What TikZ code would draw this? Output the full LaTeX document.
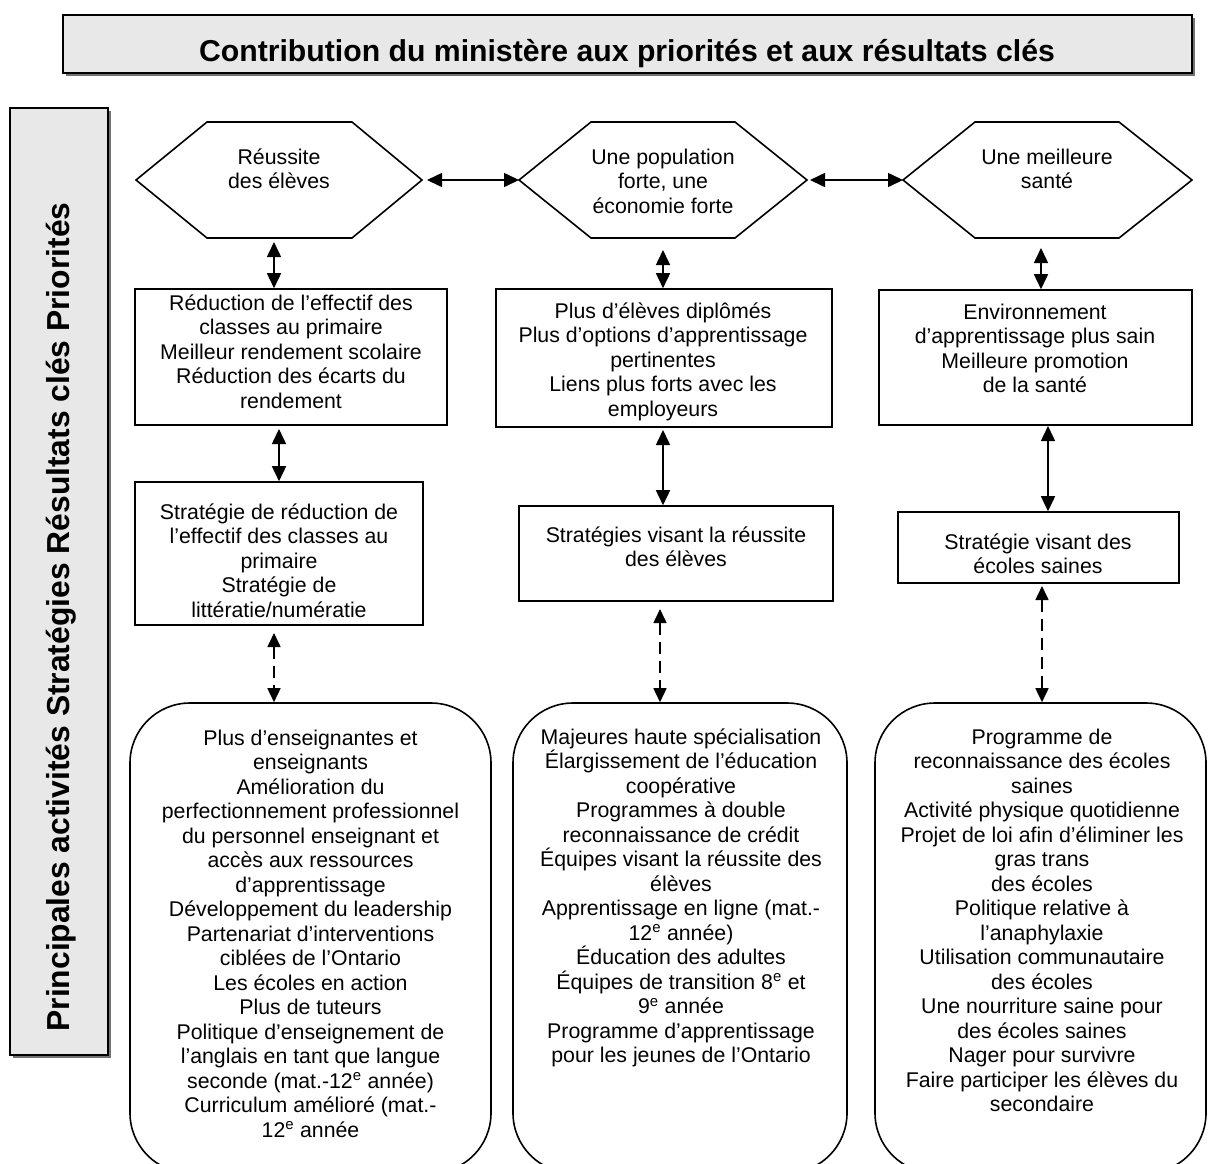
\documentclass[tikz,border=0pt]{standalone}
\usepackage{fontspec}
\setmainfont{Liberation Sans}
\usetikzlibrary{arrows.meta,calc}
\tikzset{
  frame/.style={draw, line width=1.6pt, inner sep=0pt, fill=white},
  grayframe/.style={draw, line width=1.4pt, inner sep=0pt, fill=black!9},
  shadowframe/.style={draw=none, fill=black!55, inner sep=0pt},
  txt/.style={inner sep=0pt, align=center, anchor=north, font=\fontsize{21.3}{24.5}\selectfont},
  hexline/.style={line width=1.6pt, line join=miter},
  dbl/.style={{Triangle[length=15pt,width=14pt]}-{Triangle[length=15pt,width=14pt]}, line width=1.6pt},
  dsh/.style={{Triangle[length=14pt,width=13pt]}-{Triangle[length=14pt,width=13pt]}, line width=1.6pt, dash pattern=on 12pt off 7pt}
}
\begin{document}
\lineskiplimit=-30pt
\begin{tikzpicture}[x=1pt,y=-1pt]
\useasboundingbox[fill=white] (0,0) rectangle (1210,1163);

% title box
\node[shadowframe, minimum width=1129pt, minimum height=58pt] at (630.5,47) {};
\node[grayframe, minimum width=1129pt, minimum height=58pt] (title) at (627.5,44) {};
\node[inner sep=0pt, anchor=base, font=\fontsize{30.2}{36}\selectfont\bfseries] (titletext) at (627,61)
  {Contribution du ministère aux priorités et aux résultats clés};

% left vertical box
\node[shadowframe, minimum width=98pt, minimum height=947pt] at (62,584.5) {};
\node[grayframe, minimum width=98pt, minimum height=947pt] (side) at (59,581.5) {};
\node[inner sep=0pt, rotate=90, font=\fontsize{31.8}{36}\selectfont\bfseries] (sidetext) at (61,617)
  {Principales activités Stratégies Résultats clés Priorités};

% hexagons
\coordinate (h1l) at (136,180); \coordinate (h1r) at (422,180);
\draw[hexline] (h1l) -- (207,122) -- (352,122) -- (h1r) -- (352,238) -- (207,238) -- cycle;
\coordinate (h2l) at (519,180); \coordinate (h2r) at (807,180);
\draw[hexline] (h2l) -- (591,122) -- (735,122) -- (h2r) -- (735,238) -- (591,238) -- cycle;
\coordinate (h3l) at (903,180); \coordinate (h3r) at (1192,180);
\draw[hexline] (h3l) -- (975,122) -- (1119,122) -- (h3r) -- (1119,238) -- (975,238) -- cycle;

\node[txt] (hex1) at (279,146.85) {\strut Réussite\\des élèves};
\node[txt] (hex2) at (663,146.85) {\strut Une population\\forte, une\\économie forte};
\node[txt] (hex3) at (1047,146.85) {\strut Une meilleure\\santé};

% result boxes
\node[frame, minimum width=312pt, minimum height=136pt] (r1) at (291,357) {};
\node[frame, minimum width=336pt, minimum height=138pt] (r2) at (664,358) {};
\node[frame, minimum width=313pt, minimum height=135pt] (r3) at (1035.5,357.5) {};
\node[txt] (r1t) at (291,292.85) {\strut Réduction de l’effectif des\\classes au primaire\\Meilleur rendement scolaire\\Réduction des écarts du\\rendement};
\node[txt] (r2t) at (663,300.85) {\strut Plus d’élèves diplômés\\Plus d’options d’apprentissage\\pertinentes\\Liens plus forts avec les\\employeurs};
\node[txt] (r3t) at (1035,301.85) {\strut Environnement\\d’apprentissage plus sain\\Meilleure promotion\\de la santé};

% strategy boxes
\node[frame, minimum width=288pt, minimum height=143pt] (s1) at (279,553.5) {};
\node[frame, minimum width=314pt, minimum height=95pt] (s2) at (676,553.5) {};
\node[frame, minimum width=281pt, minimum height=71pt] (s3) at (1038.5,547.5) {};
\node[txt] (s1t) at (279,501.85) {\strut Stratégie de réduction de\\l’effectif des classes au\\primaire\\Stratégie de\\littératie/numératie};
\node[txt] (s2t) at (676,524.85) {\strut Stratégies visant la réussite\\des élèves};
\node[txt] (s3t) at (1038,531.85) {\strut Stratégie visant des\\écoles saines};

% activity boxes
\node[frame, fill=none, rounded corners=60pt, minimum width=361pt, minimum height=470pt] (a1) at (310.5,938) {};
\node[frame, fill=none, rounded corners=60pt, minimum width=334pt, minimum height=470pt] (a2) at (680,938) {};
\node[frame, fill=none, rounded corners=60pt, minimum width=331pt, minimum height=470pt] (a3) at (1040.5,938) {};
\node[txt] (a1t) at (310.5,727.85) {\strut Plus d’enseignantes et\\enseignants\\Amélioration du\\perfectionnement professionnel\\du personnel enseignant et\\accès aux ressources\\d’apprentissage\\Développement du leadership\\Partenariat d’interventions\\ciblées de l’Ontario\\Les écoles en action\\Plus de tuteurs\\Politique d’enseignement de\\l’anglais en tant que langue\\seconde (mat.-12\textsuperscript{e} année)\\Curriculum amélioré (mat.-\\12\textsuperscript{e} année};
\node[txt] (a2t) at (681,726.85) {\strut Majeures haute spécialisation\\Élargissement de l’éducation\\coopérative\\Programmes à double\\reconnaissance de crédit\\Équipes visant la réussite des\\élèves\\Apprentissage en ligne (mat.-\\12\textsuperscript{e} année)\\Éducation des adultes\\Équipes de transition 8\textsuperscript{e} et\\9\textsuperscript{e} année\\Programme d’apprentissage\\pour les jeunes de l’Ontario};
\node[txt] (a3t) at (1042,726.85) {\strut Programme de\\reconnaissance des écoles\\saines\\Activité physique quotidienne\\Projet de loi afin d’éliminer les\\gras trans\\des écoles\\Politique relative à\\l’anaphylaxie\\Utilisation communautaire\\des écoles\\Une nourriture saine pour\\des écoles saines\\Nager pour survivre\\Faire participer les élèves du\\secondaire};

% horizontal connectors
\draw[dbl] ($(h1r)+(5,0)$) -- (h2l);
\draw[dbl] ($(h2r)+(3,0)$) -- (h3l);

% hexagon -> results
\coordinate (c1a) at (274,242);
\coordinate (c2a) at (663,250);
\coordinate (c3a) at (1041,248);
\draw[dbl] (c1a) -- (c1a |- r1.north);
\draw[dbl] (c2a) -- (c2a |- r2.north);
\draw[dbl] (c3a) -- (c3a |- r3.north);

% results -> strategies
\coordinate (c1b) at (279,429);
\coordinate (c2b) at (663,430);
\coordinate (c3b) at (1048,426);
\draw[dbl] (c1b) -- (c1b |- s1.north);
\draw[dbl] (c2b) -- (c2b |- s2.north);
\draw[dbl] (c3b) -- (c3b |- s3.north);

% strategies -> activities (dashed)
\coordinate (c1c) at (274,633);
\coordinate (c2c) at (660,609);
\coordinate (c3c) at (1042,586);
\draw[dsh] (c1c) -- (c1c |- a1.north);
\draw[dsh] (c2c) -- (c2c |- a2.north);
\draw[dsh] (c3c) -- (c3c |- a3.north);
\end{tikzpicture}
\end{document}
